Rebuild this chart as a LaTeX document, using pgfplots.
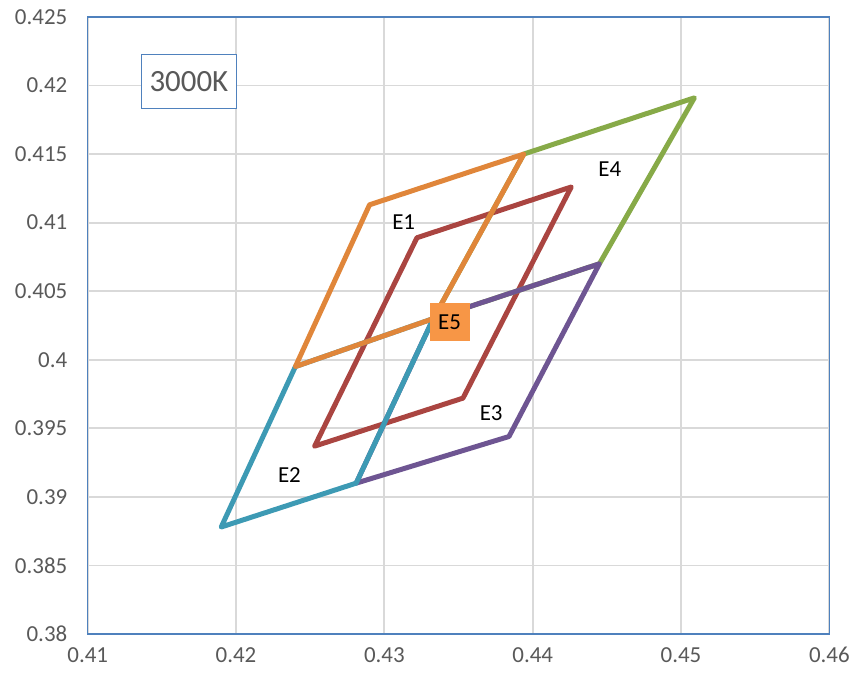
\documentclass[border=0pt]{standalone}
\usepackage{pgfplots}
\pgfplotsset{compat=1.18}
\usepackage{fontspec}
\setmainfont{Carlito}

\definecolor{cOrange}{HTML}{E0863A}
\definecolor{cRed}{HTML}{AA4541}
\definecolor{cGreen}{HTML}{87AA48}
\definecolor{cPurple}{HTML}{6E5592}
\definecolor{cCyan}{HTML}{3D9AB4}
\definecolor{cBox}{HTML}{F79646}
\definecolor{frameblue}{HTML}{4F81BD}
\definecolor{gridgray}{HTML}{D9D9D9}
\definecolor{ticktext}{HTML}{595959}

\begin{document}
\begin{tikzpicture}
\begin{axis}[
    scale only axis,
    width=744pt, height=619pt,
    xmin=0.41, xmax=0.46,
    ymin=0.38, ymax=0.425,
    xtick={0.41,0.42,0.43,0.44,0.45,0.46},
    ytick={0.38,0.385,0.39,0.395,0.4,0.405,0.41,0.415,0.42,0.425},
    /pgf/number format/.cd, fixed, precision=3, assume math mode=true,
    /pgfplots/.cd,
    grid=major,
    major grid style={draw=gridgray, line width=1.8pt},
    major tick length=0pt,
    axis line style={draw=frameblue, line width=1.5pt},
    ticklabel style={font=\fontsize{23}{27}\selectfont, text=ticktext},
    yticklabel style={xshift=-17pt},
    xticklabel style={yshift=-10pt},
    every axis plot/.append style={line width=5pt, line join=round, line cap=round},
  ]
  % E1 (inner quadrangle)
  \addplot[cRed] coordinates {
    (0.4253,0.3937) (0.4322,0.4089) (0.4426,0.4126) (0.4353,0.3972) (0.4253,0.3937)
  };
  % E4
  \addplot[cGreen] coordinates {
    (0.4394,0.4150) (0.4509,0.4191) (0.4445,0.4070) (0.4333,0.4030) (0.4394,0.4150)
  };
  % E3
  \addplot[cPurple] coordinates {
    (0.4333,0.4030) (0.4445,0.4070) (0.4384,0.3944) (0.4281,0.3910) (0.4333,0.4030)
  };
  % E2
  \addplot[cCyan] coordinates {
    (0.4240,0.3995) (0.4190,0.3878) (0.4281,0.3910) (0.4333,0.4030) (0.4240,0.3995)
  };
  % quadrangle with E5 at its corner
  \addplot[cOrange] coordinates {
    (0.4333,0.4030) (0.4240,0.3995) (0.4290,0.4113) (0.4394,0.4150) (0.4333,0.4030)
  };

  \node[font=\fontsize{23}{27}\selectfont] at (axis cs:0.4313,0.4100) {E1};
  \node[font=\fontsize{23}{27}\selectfont] at (axis cs:0.4236,0.3916) {E2};
  \node[font=\fontsize{23}{27}\selectfont] at (axis cs:0.4372,0.3961) {E3};
  \node[font=\fontsize{23}{27}\selectfont] at (axis cs:0.4452,0.4139) {E4};
  \node[font=\fontsize{23}{27}\selectfont, fill=cBox, inner sep=0pt,
        minimum width=40pt, minimum height=38pt] at (axis cs:0.4344,0.40275) {E5};
  \node[font=\fontsize{31}{35}\selectfont, text=ticktext, fill=white,
        draw=frameblue, line width=1.2pt, inner sep=0pt,
        minimum width=95pt, minimum height=54pt] at (axis cs:0.41682,0.42027) {3000K};
\end{axis}
\path ([shift={(-88pt,-44pt)}]current axis.south west)
  rectangle ([shift={(21pt,17pt)}]current axis.north east);
\end{tikzpicture}
\end{document}
